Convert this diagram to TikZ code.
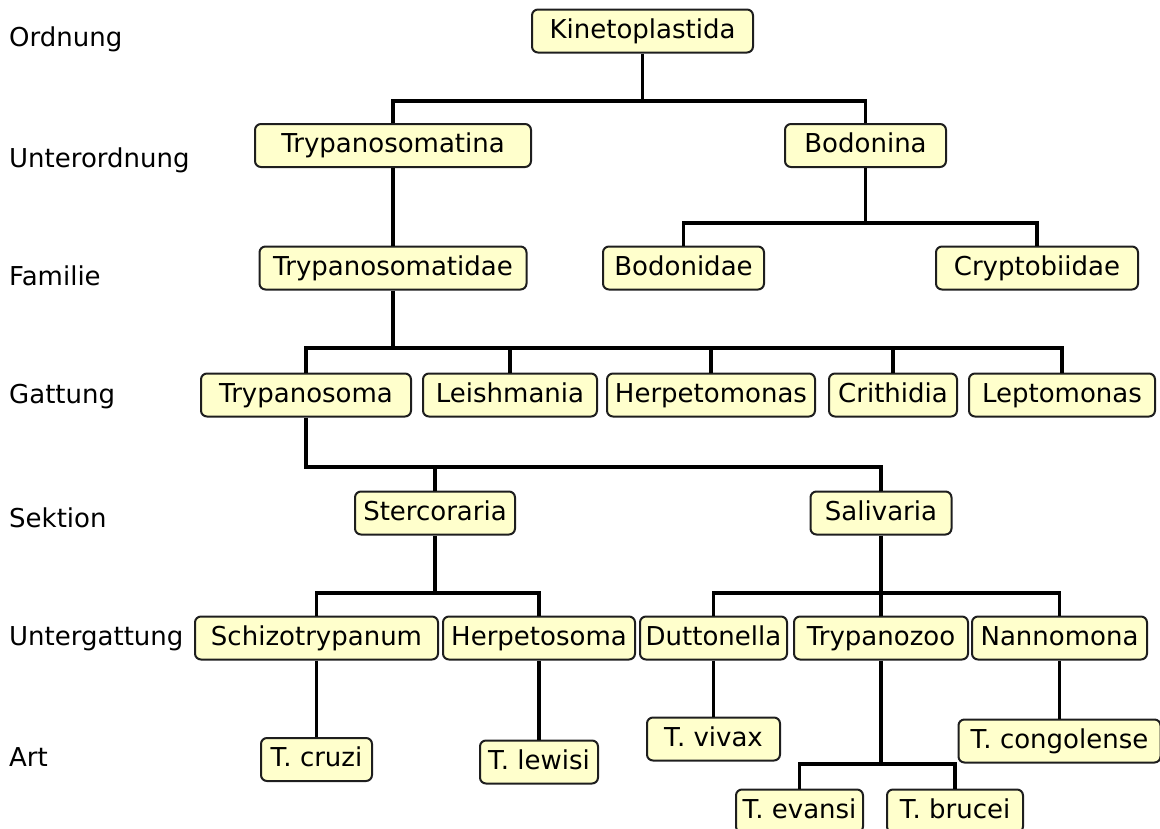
\documentclass[tikz,border=0pt]{standalone}
\usepackage{fontspec}
\setmainfont{DejaVu Sans}
\definecolor{boxfill}{RGB}{255,255,204}
\definecolor{boxline}{RGB}{30,30,30}

\begin{document}
\begin{tikzpicture}[
    x=1pt, y=-1pt,
    font=\fontsize{26}{30}\selectfont,
    taxon/.style={draw=boxline, line width=2pt, fill=boxfill, rounded corners=6pt,
                  inner xsep=2pt, inner ysep=0pt, text height=19pt, text depth=4.5pt,
                  minimum height=43pt},
    link/.style={line width=3.5pt},
    rank/.style={anchor=base west, inner sep=0pt},
  ]
  \clip (0,0) rectangle (1160,828);

  % ranks
  \node[rank] (ordnung) at (9,46) {Ordnung};
  \node[rank] (unterordnung) at (9,167) {Unterordnung};
  \node[rank] (familie) at (9,285) {Familie};
  \node[rank] (gattung) at (9,403) {Gattung};
  \node[rank] (sektion) at (9,527) {Sektion};
  \node[rank] (untergattung) at (9,645) {Untergattung};
  \node[rank] (art) at (9,766) {Art};

  % taxa
  \node[taxon, minimum width=221] (kineto) at (642.5,31) {Kinetoplastida};
  \node[taxon, minimum width=276] (tsomatina) at (393,145.5) {Trypanosomatina};
  \node[taxon, minimum width=161] (bodonina) at (865.5,145.5) {Bodonina};
  \node[taxon, minimum width=267] (tsomatidae) at (393,268) {Trypanosomatidae};
  \node[taxon, minimum width=161] (bodonidae) at (683.5,268) {Bodonidae};
  \node[taxon, minimum width=202] (crypto) at (1037,268) {Cryptobiidae};
  \node[taxon, minimum width=210] (trypanosoma) at (306,395) {Trypanosoma};
  \node[taxon, minimum width=174] (leish) at (510,395) {Leishmania};
  \node[taxon, minimum width=208] (herpetomonas) at (711,395) {Herpetomonas};
  \node[taxon, minimum width=128] (crith) at (893,395) {Crithidia};
  \node[taxon, minimum width=186] (lepto) at (1062,395) {Leptomonas};
  \node[taxon, minimum width=160] (sterco) at (435,513) {Stercoraria};
  \node[taxon, minimum width=141] (saliv) at (881,513) {Salivaria};
  \node[taxon, minimum width=243] (schizo) at (316.5,638) {Schizotrypanum};
  \node[taxon, minimum width=192] (herpetosoma) at (539,638) {Herpetosoma};
  \node[taxon, minimum width=147] (dutton) at (713.5,638) {Duttonella};
  \node[taxon, minimum width=174] (tzoo) at (881,638) {Trypanozoo};
  \node[taxon, minimum width=175] (nanno) at (1059.5,638) {Nannomona};
  \node[taxon, minimum width=111] (cruzi) at (316.5,759.5) {T. cruzi};
  \node[taxon, minimum width=118] (lewisi) at (539,762) {T. lewisi};
  \node[taxon, minimum width=133] (vivax) at (713.5,739) {T. vivax};
  \node[taxon, minimum width=202] (congo) at (1059.5,741) {T. congolense};
  \node[taxon, minimum width=127] (evansi) at (799.5,811) {T. evansi};
  \node[taxon, minimum width=136] (brucei) at (955,811) {T. brucei};

  % branch points
  \coordinate (jkineto) at (642.5,101);
  \coordinate (jbodonina) at (865.5,223);
  \coordinate (jtsomatidae) at (393,348);
  \coordinate (jtrypanosoma) at (306,467);
  \coordinate (jsterco) at (435,593);
  \coordinate (jsaliv) at (881,593);
  \coordinate (jtzoo) at (881,764);

  % tree
  \draw[link] (kineto.south) -- (jkineto);
  \draw[link] (tsomatina.north) |- (jkineto) -| (bodonina.north);
  \draw[link] (tsomatina.south) -- (tsomatidae.north);
  \draw[link] (bodonina.south) -- (jbodonina);
  \draw[link] (bodonidae.north) |- (jbodonina) -| (crypto.north);
  \draw[link] (tsomatidae.south) -- (jtsomatidae);
  \draw[link] (trypanosoma.north) |- (jtsomatidae) -| (lepto.north);
  \foreach \g in {leish, herpetomonas, crith}
    \draw[link] (\g.north) -- (\g.north |- jtsomatidae);
  \draw[link] (trypanosoma.south) -- (jtrypanosoma) -| (saliv.north);
  \draw[link] (sterco.north) -- (sterco.north |- jtrypanosoma);
  \draw[link] (sterco.south) -- (jsterco);
  \draw[link] (schizo.north) |- (jsterco) -| (herpetosoma.north);
  \draw[link] (saliv.south) -- (jsaliv);
  \draw[link] (dutton.north) |- (jsaliv) -| (nanno.north);
  \draw[link] (tzoo.north) -- (jsaliv);
  \draw[link] (schizo.south) -- (cruzi.north);
  \draw[link] (herpetosoma.south) -- (lewisi.north);
  \draw[link] (dutton.south) -- (vivax.north);
  \draw[link] (tzoo.south) -- (jtzoo);
  \draw[link] (evansi.north) |- (jtzoo) -| (brucei.north);
  \draw[link] (nanno.south) -- (congo.north);
\end{tikzpicture}
\end{document}
